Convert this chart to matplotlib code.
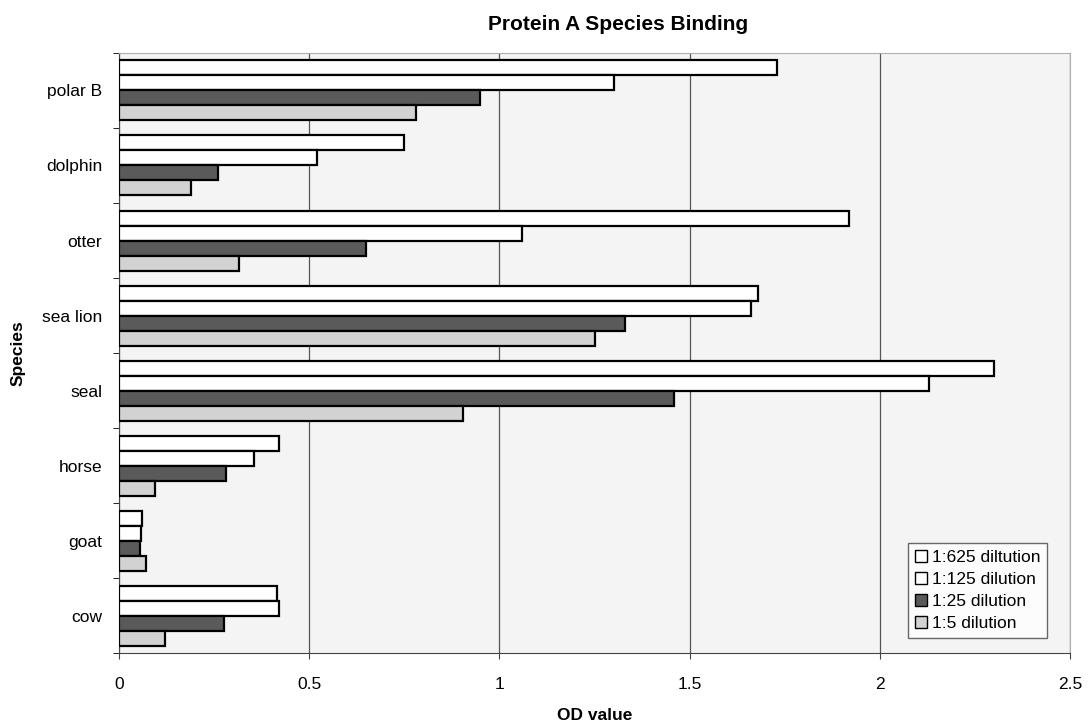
import numpy as np
import matplotlib.pyplot as plt

plt.rcParams['font.family'] = ['Liberation Sans', 'DejaVu Sans']

especies = ['cow', 'goat', 'horse', 'seal', 'sea lion', 'otter', 'dolphin', 'polar B']
series = ['1:625 diltution', '1:125 dilution', '1:25 dilution', '1:5 dilution']

d625 = [0.415, 0.06, 0.42, 2.30, 1.68, 1.92, 0.75, 1.73]
d125 = [0.42, 0.058, 0.355, 2.13, 1.66, 1.06, 0.52, 1.30]
d25 = [0.275, 0.055, 0.28, 1.46, 1.33, 0.65, 0.26, 0.95]
d5 = [0.12, 0.07, 0.095, 0.905, 1.25, 0.315, 0.19, 0.78]

cores = ['white', 'white', '#5a5a5a', '#d2d2d2']

fig = plt.figure(figsize=(10.89, 7.25), dpi=100)
ax = fig.add_axes([0.1093, 0.0993, 0.8733, 0.8276])
ax.set_facecolor('#f4f4f4')

pos = np.arange(len(especies))
altura = 0.2
valores = [d625, d125, d25, d5]
for i, (vals, cor, nome) in enumerate(zip(valores, cores, series)):
    desloc = (1.5 - i) * altura
    ax.barh(pos + desloc, vals, height=altura, color=cor, edgecolor='black',
            linewidth=1.6, label=nome, zorder=3)

ax.set_xlim(0, 2.5)
ax.set_ylim(-0.5, len(especies) - 0.5)
ax.set_xticks([0, 0.5, 1, 1.5, 2, 2.5])
ax.set_xticklabels(['0', '0.5', '1', '1.5', '2', '2.5'])
ax.set_yticks(pos)
ax.set_yticklabels(especies)
ax.set_yticks(np.arange(len(especies) + 1) - 0.5, minor=True)
ax.tick_params(axis='y', which='major', length=0, pad=12, labelsize=12.5)
ax.tick_params(axis='y', which='minor', length=4, direction='out')
ax.tick_params(axis='x', length=4, direction='out', color='#444444', pad=13, labelsize=12.5)
ax.grid(axis='x', color='#555555', linewidth=0.9, zorder=0)

for lado in ['top', 'right']:
    ax.spines[lado].set_color('#b0b0b0')
ax.spines['left'].set_color('#444444')
ax.spines['bottom'].set_color('#444444')

ax.set_xlabel('OD value', fontweight='bold', fontsize=12.5, labelpad=12)
ax.set_ylabel('Species', fontweight='bold', fontsize=12.5, labelpad=12)
fig.text(0.568, 0.966, 'Protein A Species Binding', ha='center', va='center',
         fontweight='bold', fontsize=15)

leg = ax.legend(loc='lower right', bbox_to_anchor=(0.976, 0.025), fontsize=12.5,
                frameon=True, fancybox=False, edgecolor='#444444',
                handlelength=0.7, handleheight=0.7, handletextpad=0.25,
                labelspacing=0.4, borderpad=0.4, borderaxespad=0)
leg.get_frame().set_linewidth(1.0)
for h in leg.legend_handles:
    h.set_linewidth(1.0)

fig.savefig('out.png', dpi=100, facecolor='white')
